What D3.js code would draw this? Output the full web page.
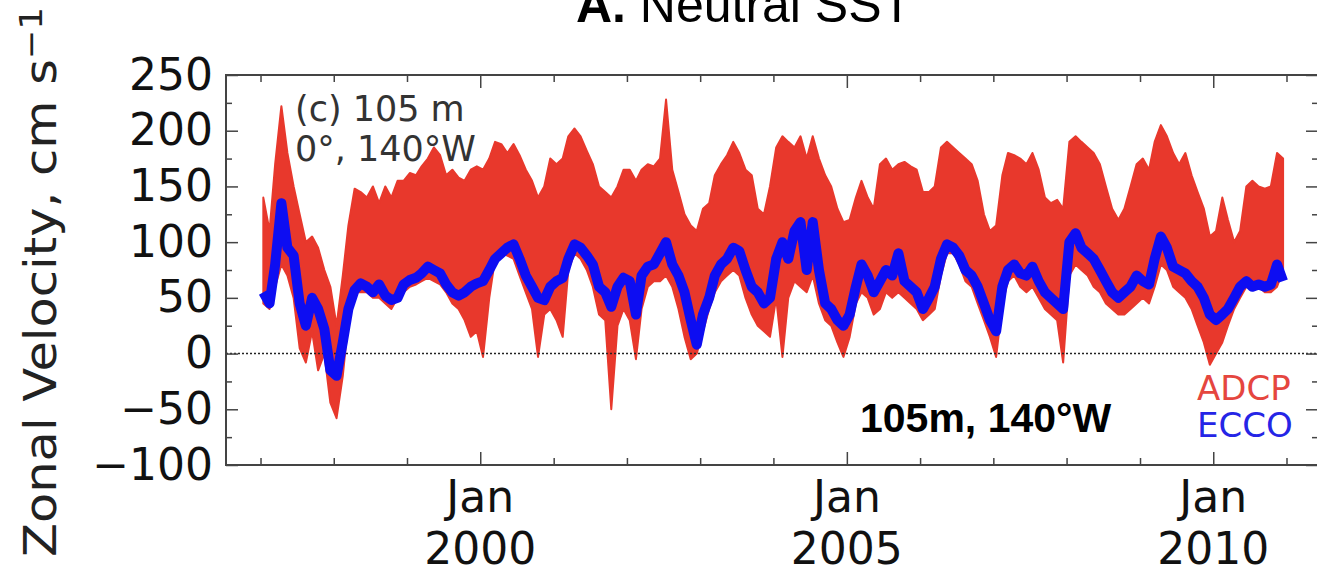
<!DOCTYPE html>
<html>
<head>
<meta charset="utf-8">
<script src="https://cdn.jsdelivr.net/npm/d3@7"></script>
<style>
  body { margin: 0; background: #fff; }
  svg { display: block; }
</style>
</head>
<body>
<div id="chart"></div>
<script>
// monthly values, Jan 1997 .. Dec 2010 (cm/s)
var adcpHigh = [
  140, 110, 170, 222, 180, 150, 125, 100, 105, 95, 75, 60,
  25, 70, 115, 148, 145, 140, 150, 135, 150, 140, 155, 155,
  162, 160, 168, 175, 185, 178, 160, 165, 158, 155, 165, 168,
  165, 175, 190, 188, 180, 188, 178, 165, 155, 140, 150, 175,
  170, 175, 195, 202, 195, 182, 170, 150, 145, 140, 150, 165,
  165, 155, 165, 170, 168, 175, 228, 165, 145, 125, 115, 110,
  130, 135, 160, 170, 178, 190, 180, 165, 160, 130, 125, 150,
  185, 195, 190, 185, 195, 175, 195, 175, 160, 150, 130, 118,
  120, 140, 155, 140, 130, 170, 175, 165, 170, 172, 168, 165,
  145, 145, 150, 185, 190, 185, 180, 175, 170, 155, 125, 110,
  115, 160, 180, 178, 175, 170, 180, 165, 140, 135, 138, 130,
  190, 195, 190, 185, 180, 170, 150, 130, 120, 130, 150, 170,
  175, 165, 190, 205, 195, 180, 170, 180, 160, 145, 130, 105,
  110, 140, 120, 100, 110, 150, 155, 150, 148, 150, 180, 175
];
var adcpLow = [
  45, 40, 60, 80, 70, 50, 5, -8, 20, -15, 0, -44,
  -58, -20, 30, 55, 55, 55, 50, 50, 45, 40, 50, 55,
  60, 62, 65, 68, 65, 62, 55, 45, 40, 30, 15, 20,
  -3, 50, 85, 90, 88, 85, 70, 55, 40, -3, 35, 40,
  30, 15, 75, 90, 85, 75, 60, 35, 30, -50, 25, 40,
  30, -5, 40, 60, 65, 65, 70, 60, 40, 15, -5, 0,
  20, 40, 55, 65, 70, 75, 70, 50, 35, 25, 20, 15,
  50, -3, 50, 65, 60, 55, 70, 45, 30, 25, 10, -3,
  15, 45, 55, 50, 35, 40, 55, 50, 55, 50, 45, 40,
  30, 35, 40, 70, 90, 90, 80, 65, 60, 45, 30, 15,
  -3, 45, 65, 70, 60, 55, 60, 50, 40, 35, 30, -8,
  70, 80, 75, 70, 60, 55, 45, 40, 35, 35, 40, 45,
  50, 45, 60, 80, 75, 60, 55, 50, 40, 25, 10, -10,
  0, 10, 25, 40, 50, 60, 60, 60, 55, 55, 60, 75
];
var ecco = [
  55, 45, 80, 135, 95, 88, 45, 25, 50, 40, 22, -15,
  -20, 10, 40, 57, 63, 60, 55, 62, 52, 48, 50, 62,
  66, 68, 72, 78, 75, 72, 62, 55, 52, 55, 60, 63,
  65, 75, 85, 90, 95, 98, 85, 70, 60, 50, 48, 60,
  65, 68, 85, 98, 95, 88, 80, 60, 55, 42, 60, 68,
  65, 35, 70, 78, 80, 90, 100, 80, 70, 55, 30, 8,
  35, 50, 70, 80, 85, 95, 92, 75, 60, 55, 45, 50,
  85, 100, 85, 110, 118, 75, 118, 75, 45, 40, 30, 25,
  35, 60, 80, 70, 55, 65, 75, 70, 90, 65, 60, 55,
  40, 50, 60, 85, 98, 95, 88, 75, 70, 60, 45, 30,
  20, 60, 75, 80, 72, 70, 78, 65, 55, 50, 45, 40,
  100, 108, 95, 90, 85, 75, 65, 55, 50, 55, 60, 70,
  65, 62, 85, 105, 95, 78, 75, 72, 65, 60, 50, 35,
  30, 35, 40, 50, 60, 65, 60, 62, 60, 62, 80, 65
];
var yTicks = [-100, -50, 0, 50, 100, 150, 200, 250];
var xLabelYears = [2000, 2005, 2010];

var margins = { top: 75, right: -1, bottom: 108, left: 226 };
var W = 1317, H = 573;
var width = W - margins.left - margins.right;
var height = H - margins.top - margins.bottom;

var data = adcpHigh.map(function (d, i) {
  return { date: new Date(1997, i, 15), hi: d, lo: adcpLow[i], ecco: ecco[i] };
});

var svg = d3.select("#chart").append("svg")
  .attr("width", W).attr("height", H);

// title, cut by the top edge as in the original
var title = svg.append("text")
  .attr("x", 744).attr("y", 22)
  .attr("text-anchor", "middle")
  .style("font-family", "'Liberation Sans', Arial, sans-serif")
  .style("font-size", "50px");
title.append("tspan").style("font-weight", "bold").text("A.");
title.append("tspan").text(" Neutral SST");

// y axis label, a little stretched along its length like the original
var ylab = svg.append("text")
  .attr("transform", "translate(56,557) scale(1,1.1) rotate(-90)")
  .style("font-family", "'DejaVu Sans', sans-serif")
  .style("font-size", "45px")
  .attr("fill", "#222");
ylab.append("tspan").text("Zonal Velocity, cm s");
ylab.append("tspan").attr("dy", "-0.45em").style("font-size", "32px").text("\u22121");

var g = svg.append("g")
  .attr("transform", "translate(" + margins.left + "," + margins.top + ")");

var x = d3.scaleTime()
  .domain([new Date(1996, 6, 13), new Date(2011, 5, 7)])
  .range([0, width]);
var y = d3.scaleLinear().domain([-100, 250]).range([height, 0]);

// ADCP band
g.append("path")
  .datum(data)
  .attr("fill", "#e8382c")
  .attr("stroke", "#e8382c")
  .attr("stroke-width", 2)
  .attr("stroke-linejoin", "round")
  .attr("d", d3.area()
    .x(function (d) { return x(d.date); })
    .y0(function (d) { return y(d.lo); })
    .y1(function (d) { return y(d.hi); }));

// zero line
g.append("line")
  .attr("x1", 0).attr("x2", width)
  .attr("y1", y(0)).attr("y2", y(0))
  .attr("stroke", "#222").attr("stroke-width", 1.6)
  .attr("stroke-dasharray", "2,2");

// ECCO line
g.append("path")
  .datum(data)
  .attr("fill", "none")
  .attr("stroke", "#0d0df2")
  .attr("stroke-width", 10)
  .attr("stroke-linejoin", "round")
  .attr("d", d3.line()
    .x(function (d) { return x(d.date); })
    .y(function (d) { return y(d.ecco); }));

// axes with inward ticks
function styleAxis(sel) {
  sel.select(".domain").remove();
  sel.selectAll(".tick line").attr("stroke", "#444").attr("stroke-width", 1.5);
  sel.selectAll("text")
    .style("font-family", "'DejaVu Sans', sans-serif")
    .style("font-size", "44px")
    .attr("fill", "#111");
}
var yMinor = d3.range(-75, 250, 50);
var years = d3.timeYear.range(new Date(1997, 0, 1), new Date(2012, 0, 1));
var majorYears = years.filter(function (d) { return d.getFullYear() % 5 === 0; });
var minorYears = years.filter(function (d) { return d.getFullYear() % 5 !== 0; });

g.append("g").call(d3.axisLeft(y).tickValues(yTicks).tickSize(-12).tickPadding(13)).call(styleAxis);
g.append("g").call(d3.axisLeft(y).tickValues(yMinor).tickSize(-6).tickFormat("")).call(styleAxis);
g.append("g").attr("transform", "translate(" + width + ",0)")
  .call(d3.axisRight(y).tickValues(yTicks).tickSize(-12).tickFormat("")).call(styleAxis);
g.append("g").attr("transform", "translate(" + width + ",0)")
  .call(d3.axisRight(y).tickValues(yMinor).tickSize(-6).tickFormat("")).call(styleAxis);

g.append("g").attr("transform", "translate(0," + height + ")")
  .call(d3.axisBottom(x).tickValues(majorYears).tickSize(-13).tickFormat("")).call(styleAxis);
g.append("g").attr("transform", "translate(0," + height + ")")
  .call(d3.axisBottom(x).tickValues(minorYears).tickSize(-7).tickFormat("")).call(styleAxis);
g.append("g")
  .call(d3.axisTop(x).tickValues(majorYears).tickSize(-13).tickFormat("")).call(styleAxis);
g.append("g")
  .call(d3.axisTop(x).tickValues(minorYears).tickSize(-7).tickFormat("")).call(styleAxis);

// two-line date labels
xLabelYears.forEach(function (yr) {
  var t = g.append("text")
    .attr("text-anchor", "middle")
    .attr("transform", "translate(" + x(new Date(yr, 0, 1)) + "," + height + ")")
    .style("font-family", "'DejaVu Sans', sans-serif")
    .style("font-size", "44px")
    .attr("fill", "#111");
  t.append("tspan").attr("x", 0).attr("y", 47).text("Jan");
  t.append("tspan").attr("x", 0).attr("y", 99).text(yr);
});

// frame
g.append("rect")
  .attr("width", width).attr("height", height)
  .attr("fill", "none").attr("stroke", "#444").attr("stroke-width", 2);

// panel annotations
var ann = g.append("text")
  .style("font-family", "'DejaVu Sans', sans-serif")
  .style("font-size", "35px")
  .attr("fill", "#333");
ann.append("tspan").attr("x", 69).attr("y", 46).text("(c) 105 m");
ann.append("tspan").attr("x", 69).attr("y", 86).text("0\u00b0, 140\u00b0W");

g.append("text")
  .attr("x", 634).attr("y", 357)
  .style("font-family", "'Liberation Sans', Arial, sans-serif")
  .style("font-weight", "bold")
  .style("font-size", "41px")
  .attr("fill", "#000")
  .text("105m, 140\u00b0W");

g.append("text")
  .attr("x", 971).attr("y", 325)
  .style("font-family", "'DejaVu Sans', sans-serif")
  .style("font-size", "34px")
  .attr("fill", "#e5463f")
  .text("ADCP");
g.append("text")
  .attr("x", 971).attr("y", 362)
  .style("font-family", "'DejaVu Sans', sans-serif")
  .style("font-size", "34px")
  .attr("fill", "#2525e6")
  .text("ECCO");
</script>
</body>
</html>
